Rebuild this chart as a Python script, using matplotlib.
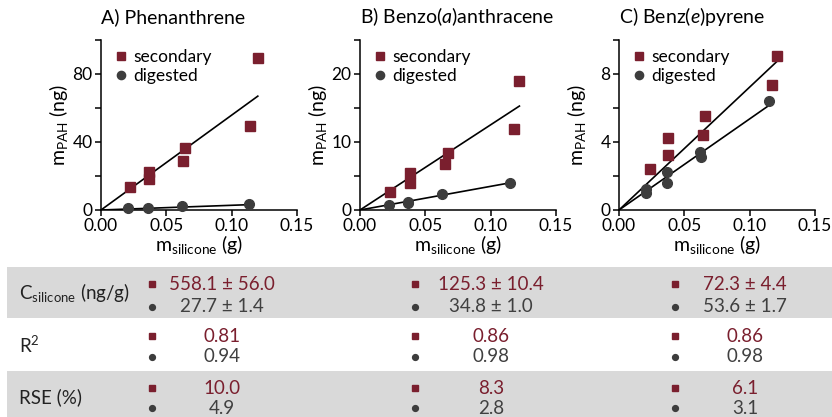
import matplotlib
matplotlib.use("Agg")
import matplotlib.pyplot as plt
from matplotlib.ticker import FixedLocator, FixedFormatter
from matplotlib.patches import Rectangle

plt.rcParams['font.family'] = ['Lato', 'DejaVu Sans']
plt.rcParams['mathtext.fontset'] = 'custom'
plt.rcParams['mathtext.rm'] = 'Lato'
plt.rcParams['mathtext.it'] = 'Lato:italic'
plt.rcParams['mathtext.bf'] = 'Lato:bold'

# ---------------- data ----------------
titles = ["A) Phenanthrene", "B) Benzo($\\mathit{a}$)anthracene", "C) Benz($\\mathit{e}$)pyrene"]

A_sec_x = [0.022, 0.037, 0.037, 0.063, 0.064, 0.114, 0.120]
A_sec_y = [13.7, 22.6, 18.2, 28.9, 36.4, 49.7, 89.4]
A_dig_x = [0.021, 0.036, 0.062, 0.113]
A_dig_y = [1.0, 1.4, 2.4, 3.5]

B_sec_x = [0.023, 0.038, 0.038, 0.065, 0.067, 0.118, 0.122]
B_sec_y = [2.7, 5.5, 3.95, 6.7, 8.4, 11.9, 19.0]
B_dig_x = [0.022, 0.037, 0.037, 0.063, 0.115]
B_dig_y = [0.74, 1.05, 1.25, 2.35, 4.04]

C_sec_x = [0.024, 0.0375, 0.0375, 0.064, 0.0655, 0.117, 0.121]
C_sec_y = [2.43, 4.24, 3.21, 4.44, 5.52, 7.36, 9.07]
C_dig_x = [0.021, 0.021, 0.037, 0.037, 0.062, 0.063, 0.115]
C_dig_y = [1.22, 0.98, 2.22, 1.57, 3.41, 3.11, 6.41]

# fitted concentrations (slope of line through origin, ng/g)
slope_sec = [558.1, 125.3, 72.3]
slope_dig = [27.7, 34.8, 53.6]

y_max = [100, 25, 10]
y_step = [20, 5, 2]
y_labels = [[0, 40, 80], [0, 10, 20], [0, 4, 8]]
x_ticks = [0.00, 0.05, 0.10, 0.15]
x_ticklabels = ["0.00", "0.05", "0.10", "0.15"]

# table
row_labels = ["C$_{\\mathrm{silicone}}$ (ng/g)", "R$^{2}$", "RSE (%)"]
conc_sec = ["558.1 ± 56.0", "125.3 ± 10.4", "72.3 ± 4.4"]
conc_dig = ["27.7 ± 1.4", "34.8 ± 1.0", "53.6 ± 1.7"]
r2_sec = ["0.81", "0.86", "0.86"]
r2_dig = ["0.94", "0.98", "0.98"]
rse_sec = ["10.0", "8.3", "6.1"]
rse_dig = ["4.9", "2.8", "3.1"]

RED = "#7a1f2e"
GREY = "#3d3d3d"
TXT_GREY = "#404040"
BAND = "#d9d9d9"

W, H = 832, 417
fig = plt.figure(figsize=(W / 100, H / 100), dpi=100)

sec_x = [A_sec_x, B_sec_x, C_sec_x]
sec_y = [A_sec_y, B_sec_y, C_sec_y]
dig_x = [A_dig_x, B_dig_x, C_dig_x]
dig_y = [A_dig_y, B_dig_y, C_dig_y]

lefts = [101, 360, 619]
ax_w, ax_top, ax_bot = 196, 40, 210

for i in range(3):
    ax = fig.add_axes([lefts[i] / W, 1 - ax_bot / H, ax_w / W, (ax_bot - ax_top) / H])
    ax.set_zorder(2)
    # fit lines
    xe = max(sec_x[i])
    ax.plot([0, xe], [0, slope_sec[i] * xe], color='black', lw=1.2, zorder=2)
    xe = max(dig_x[i])
    ax.plot([0, xe], [0, slope_dig[i] * xe], color='black', lw=1.2, zorder=2)
    ax.plot(sec_x[i], sec_y[i], 's', color=RED, ms=7.2, mec=RED, ls='none',
            label='secondary', zorder=3, clip_on=False)
    ax.plot(dig_x[i], dig_y[i], 'o', color=GREY, ms=7.0, mec=GREY, ls='none',
            label='digested', zorder=3, clip_on=False)
    ax.set_xlim(0, 0.15)
    ax.set_ylim(0, y_max[i])
    for s in ['top', 'right']:
        ax.spines[s].set_visible(False)
    for s in ['left', 'bottom']:
        ax.spines[s].set_linewidth(1.1)
    ax.xaxis.set_major_locator(FixedLocator(x_ticks))
    ax.xaxis.set_major_formatter(FixedFormatter(x_ticklabels))
    yt = [k * y_step[i] for k in range(int(y_max[i] / y_step[i]) + 1)]
    ax.yaxis.set_major_locator(FixedLocator(yt))
    ax.yaxis.set_major_formatter(FixedFormatter([str(v) if v in y_labels[i] else "" for v in yt]))
    ax.tick_params(axis='both', direction='out', length=4, width=1.1, labelsize=12.5,
                   colors='black', pad=2)
    ax.set_ylabel("m$_{\\mathrm{PAH}}$ (ng)", fontsize=14)
    ax.yaxis.set_label_coords(-0.157, 0.5)
    ax.set_xlabel("m$_{\\mathrm{silicone}}$ (g)", fontsize=14)
    ax.xaxis.set_label_coords(0.5, -0.135)
    ax.set_title(titles[i], loc='left', fontsize=14, pad=12)
    ax.legend(loc='upper left', frameon=False, fontsize=12.5, handlelength=0.8,
              handletextpad=0.3, borderaxespad=0.0, labelspacing=0.2,
              bbox_to_anchor=(0.03, 0.99), markerscale=0.85)

# ---------------- table ----------------
tab = fig.add_axes([0, 0, 1, 1])
tab.set_xlim(0, W)
tab.set_ylim(H, 0)
tab.axis('off')
tab.set_zorder(0)

tab.add_patch(Rectangle((7, 267), W - 7, 51, color=BAND, lw=0))
tab.add_patch(Rectangle((7, 371), W - 7, 46, color=BAND, lw=0))

row_label_y = [292, 345, 397]
row_sec_y = [284, 336, 388]
row_dig_y = [307, 357, 408]
col_marker_x = [152, 415, 675]
col_text_x = [222, 491, 745]
rows = [(conc_sec, conc_dig), (r2_sec, r2_dig), (rse_sec, rse_dig)]

for r in range(3):
    tab.text(19, row_label_y[r], row_labels[r], fontsize=13.5, color='#222222',
             ha='left', va='center')
    sv, dv = rows[r]
    for c in range(3):
        tab.plot(col_marker_x[c], row_sec_y[r], 's', color=RED, ms=4.5)
        tab.plot(col_marker_x[c], row_dig_y[r], 'o', color=GREY, ms=4.2)
        tab.text(col_text_x[c], row_sec_y[r], sv[c], fontsize=13.5, color=RED,
                 ha='center', va='center')
        tab.text(col_text_x[c], row_dig_y[r], dv[c], fontsize=13.5, color=TXT_GREY,
                 ha='center', va='center')

fig.savefig("out.png", dpi=100)
